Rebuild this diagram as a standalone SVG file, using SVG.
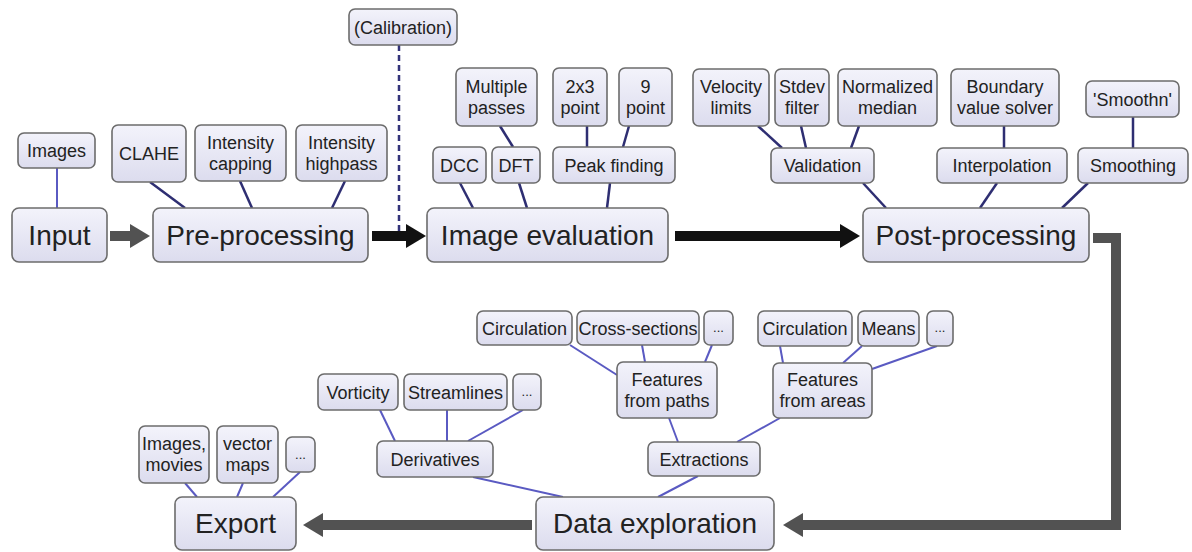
<svg xmlns="http://www.w3.org/2000/svg" width="1192" height="552" viewBox="0 0 1192 552">
<defs>
<linearGradient id="g" x1="0" y1="0" x2="0" y2="1">
<stop offset="0" stop-color="#f3f3fb"/>
<stop offset="1" stop-color="#dcdcee"/>
</linearGradient>
<marker id="hg" markerUnits="userSpaceOnUse" viewBox="0 0 20 24" refX="0" refY="12" markerWidth="20" markerHeight="24" orient="auto">
<path d="M0,0 L20,12 L0,24 Z" fill="#525252"/>
</marker>
<marker id="hb" markerUnits="userSpaceOnUse" viewBox="0 0 20 24" refX="0" refY="12" markerWidth="20" markerHeight="24" orient="auto">
<path d="M0,0 L20,12 L0,24 Z" fill="#111"/>
</marker>
<style>
.box{fill:url(#g);stroke:#6c6c6c;stroke-width:1.6}
.t{font-family:"Liberation Sans",Arial,sans-serif;fill:#222;text-anchor:middle}
.big{font-size:28px}
.sm{font-size:18px}
.dots{font-size:13px}
.c1{stroke:#2e2e72;stroke-width:2.5;fill:none}
.c2{stroke:#5a5ac2;stroke-width:2;fill:none}
.ag{stroke:#525252;stroke-width:10;fill:none;marker-end:url(#hg)}
.ab{stroke:#111;stroke-width:10;fill:none;marker-end:url(#hb)}
.dash{stroke:#33337a;stroke-width:2.5;stroke-dasharray:6 4;fill:none}
</style>
</defs>
<rect width="1192" height="552" fill="#fff"/>

<g id="connectors">
<line class="c2" x1="57" y1="168" x2="57" y2="208"/>
<line class="c1" x1="150" y1="182" x2="185" y2="208"/>
<line class="c1" x1="240" y1="181" x2="252" y2="208"/>
<line class="c1" x1="345" y1="181" x2="332" y2="208"/>
<line class="c1" x1="460" y1="183" x2="473" y2="208"/>
<line class="c1" x1="519" y1="183" x2="527" y2="208"/>
<line class="c1" x1="610" y1="183" x2="607" y2="208"/>
<line class="c1" x1="500" y1="126" x2="513" y2="147"/>
<line class="c1" x1="587" y1="126" x2="587" y2="147"/>
<line class="c1" x1="629" y1="126" x2="623" y2="147"/>
<line class="c1" x1="758" y1="126" x2="782" y2="148"/>
<line class="c1" x1="801" y1="126" x2="806" y2="148"/>
<line class="c1" x1="859" y1="126" x2="851" y2="148"/>
<line class="c1" x1="863" y1="183" x2="886" y2="208"/>
<line class="c1" x1="1004" y1="126" x2="1004" y2="148"/>
<line class="c1" x1="997" y1="183" x2="980" y2="208"/>
<line class="c1" x1="1133" y1="117" x2="1133" y2="148"/>
<line class="c1" x1="1088" y1="183" x2="1062" y2="208"/>
<line class="c2" x1="185" y1="483" x2="197" y2="497"/>
<line class="c2" x1="243" y1="483" x2="237" y2="497"/>
<line class="c2" x1="300" y1="472" x2="273" y2="497"/>
<line class="c2" x1="380" y1="410" x2="395" y2="441"/>
<line class="c2" x1="447" y1="410" x2="447" y2="441"/>
<line class="c2" x1="523" y1="410" x2="468" y2="441"/>
<line class="c2" x1="473" y1="477" x2="563" y2="497"/>
<line class="c2" x1="570" y1="345" x2="617" y2="375"/>
<line class="c2" x1="642" y1="345" x2="645" y2="362"/>
<line class="c2" x1="712" y1="345" x2="705" y2="362"/>
<line class="c2" x1="669" y1="418" x2="678" y2="442"/>
<line class="c2" x1="780" y1="418" x2="737" y2="442"/>
<line class="c2" x1="698" y1="476" x2="658" y2="497"/>
<line class="c2" x1="780" y1="346" x2="783" y2="363"/>
<line class="c2" x1="862" y1="346" x2="843" y2="363"/>
<line class="c2" x1="937" y1="346" x2="872" y2="369"/>
<line class="dash" x1="399" y1="45" x2="399" y2="231"/>
<path class="ag" d="M110,236 H130"/>
<path class="ab" d="M372,236 H406"/>
<path class="ab" d="M675,236 H840"/>
<path class="ag" d="M1093,238 H1116 V525 H803"/>
<path class="ag" d="M532,525 H323"/>
</g>

<g id="images"><rect class="box" x="18" y="133" width="77" height="35" rx="6"/><text class="t sm" x="56.5" y="157">Images</text></g>
<g id="input"><rect class="box" x="12" y="208" width="95" height="54" rx="7"/><text class="t big" x="59.5" y="245">Input</text></g>
<g id="clahe"><rect class="box" x="112" y="125" width="74" height="57" rx="6"/><text class="t sm" x="149" y="160">CLAHE</text></g>
<g id="capping"><rect class="box" x="195" y="125" width="91" height="56" rx="6"/><text class="t sm" x="240.5" y="149">Intensity</text><text class="t sm" x="240.5" y="170">capping</text></g>
<g id="highpass"><rect class="box" x="296" y="125" width="91" height="56" rx="6"/><text class="t sm" x="341.5" y="149">Intensity</text><text class="t sm" x="341.5" y="170">highpass</text></g>
<g id="preprocessing"><rect class="box" x="153" y="208" width="215" height="54" rx="7"/><text class="t big" x="260.5" y="245">Pre-processing</text></g>
<g id="calibration"><rect class="box" x="349" y="9" width="108" height="36" rx="6"/><text class="t sm" x="403" y="33.5">(Calibration)</text></g>
<g id="multipass"><rect class="box" x="456" y="68" width="81" height="58" rx="6"/><text class="t sm" x="496.5" y="93">Multiple</text><text class="t sm" x="496.5" y="114">passes</text></g>
<g id="p2x3"><rect class="box" x="553" y="68" width="54" height="58" rx="6"/><text class="t sm" x="580" y="93">2x3</text><text class="t sm" x="580" y="114">point</text></g>
<g id="p9"><rect class="box" x="619" y="68" width="53" height="58" rx="6"/><text class="t sm" x="645.5" y="93">9</text><text class="t sm" x="645.5" y="114">point</text></g>
<g id="dcc"><rect class="box" x="433" y="147" width="53" height="36" rx="6"/><text class="t sm" x="459.5" y="171.5">DCC</text></g>
<g id="dft"><rect class="box" x="492" y="147" width="48" height="36" rx="6"/><text class="t sm" x="516" y="171.5">DFT</text></g>
<g id="peak"><rect class="box" x="553" y="147" width="122" height="36" rx="6"/><text class="t sm" x="614" y="171.5">Peak finding</text></g>
<g id="imageeval"><rect class="box" x="427" y="208" width="241" height="54" rx="7"/><text class="t big" x="547.5" y="245">Image evaluation</text></g>
<g id="velocity"><rect class="box" x="693" y="69" width="76" height="57" rx="6"/><text class="t sm" x="731" y="93">Velocity</text><text class="t sm" x="731" y="114">limits</text></g>
<g id="stdev"><rect class="box" x="775" y="69" width="54" height="57" rx="6"/><text class="t sm" x="802" y="93">Stdev</text><text class="t sm" x="802" y="114">filter</text></g>
<g id="normalized"><rect class="box" x="838" y="69" width="99" height="57" rx="6"/><text class="t sm" x="887.5" y="93">Normalized</text><text class="t sm" x="887.5" y="114">median</text></g>
<g id="boundary"><rect class="box" x="951" y="69" width="108" height="57" rx="6"/><text class="t sm" x="1005" y="93">Boundary</text><text class="t sm" x="1005" y="114">value solver</text></g>
<g id="smoothn"><rect class="box" x="1086" y="81" width="93" height="36" rx="6"/><text class="t sm" x="1132.5" y="105.5">'Smoothn'</text></g>
<g id="validation"><rect class="box" x="771" y="148" width="103" height="35" rx="6"/><text class="t sm" x="822.5" y="172">Validation</text></g>
<g id="interpolation"><rect class="box" x="937" y="148" width="130" height="35" rx="6"/><text class="t sm" x="1002" y="172">Interpolation</text></g>
<g id="smoothing"><rect class="box" x="1078" y="148" width="110" height="35" rx="6"/><text class="t sm" x="1133" y="172">Smoothing</text></g>
<g id="postprocessing"><rect class="box" x="863" y="208" width="226" height="54" rx="7"/><text class="t big" x="976" y="245">Post-processing</text></g>

<g id="export"><rect class="box" x="175" y="497" width="121" height="53" rx="7"/><text class="t big" x="235.5" y="533">Export</text></g>
<g id="imagesmovies"><rect class="box" x="139" y="426" width="70" height="57" rx="6"/><text class="t sm" x="174" y="450">Images,</text><text class="t sm" x="174" y="471">movies</text></g>
<g id="vectormaps"><rect class="box" x="217" y="426" width="61" height="57" rx="6"/><text class="t sm" x="247.5" y="450">vector</text><text class="t sm" x="247.5" y="471">maps</text></g>
<g id="exportmore"><rect class="box" x="286" y="437" width="29" height="35" rx="6"/><text class="t dots" x="300.5" y="459">...</text></g>
<g id="derivatives"><rect class="box" x="377" y="441" width="116" height="36" rx="6"/><text class="t sm" x="435" y="465.5">Derivatives</text></g>
<g id="vorticity"><rect class="box" x="318" y="374" width="80" height="36" rx="6"/><text class="t sm" x="358" y="398.5">Vorticity</text></g>
<g id="streamlines"><rect class="box" x="404" y="374" width="103" height="36" rx="6"/><text class="t sm" x="455.5" y="398.5">Streamlines</text></g>
<g id="derivmore"><rect class="box" x="513" y="374" width="28" height="36" rx="6"/><text class="t dots" x="527" y="396">...</text></g>
<g id="dataexploration"><rect class="box" x="536" y="497" width="238" height="53" rx="7"/><text class="t big" x="655" y="533">Data exploration</text></g>
<g id="extractions"><rect class="box" x="648" y="442" width="112" height="34" rx="6"/><text class="t sm" x="704" y="465.5">Extractions</text></g>
<g id="featurespaths"><rect class="box" x="617" y="362" width="100" height="56" rx="6"/><text class="t sm" x="667" y="386">Features</text><text class="t sm" x="667" y="407">from paths</text></g>
<g id="circulationpaths"><rect class="box" x="477" y="311" width="95" height="34" rx="6"/><text class="t sm" x="524.5" y="334.5">Circulation</text></g>
<g id="crosssections"><rect class="box" x="577" y="311" width="122" height="34" rx="6"/><text class="t sm" x="638" y="334.5">Cross-sections</text></g>
<g id="pathsmore"><rect class="box" x="704" y="311" width="29" height="34" rx="6"/><text class="t dots" x="718.5" y="332">...</text></g>
<g id="featuresareas"><rect class="box" x="773" y="363" width="99" height="55" rx="6"/><text class="t sm" x="822.5" y="386">Features</text><text class="t sm" x="822.5" y="407">from areas</text></g>
<g id="circulationareas"><rect class="box" x="758" y="311" width="94" height="35" rx="6"/><text class="t sm" x="805" y="335">Circulation</text></g>
<g id="means"><rect class="box" x="858" y="311" width="61" height="35" rx="6"/><text class="t sm" x="888.5" y="335">Means</text></g>
<g id="areasmore"><rect class="box" x="927" y="311" width="26" height="35" rx="6"/><text class="t dots" x="940" y="332">...</text></g>
</svg>
